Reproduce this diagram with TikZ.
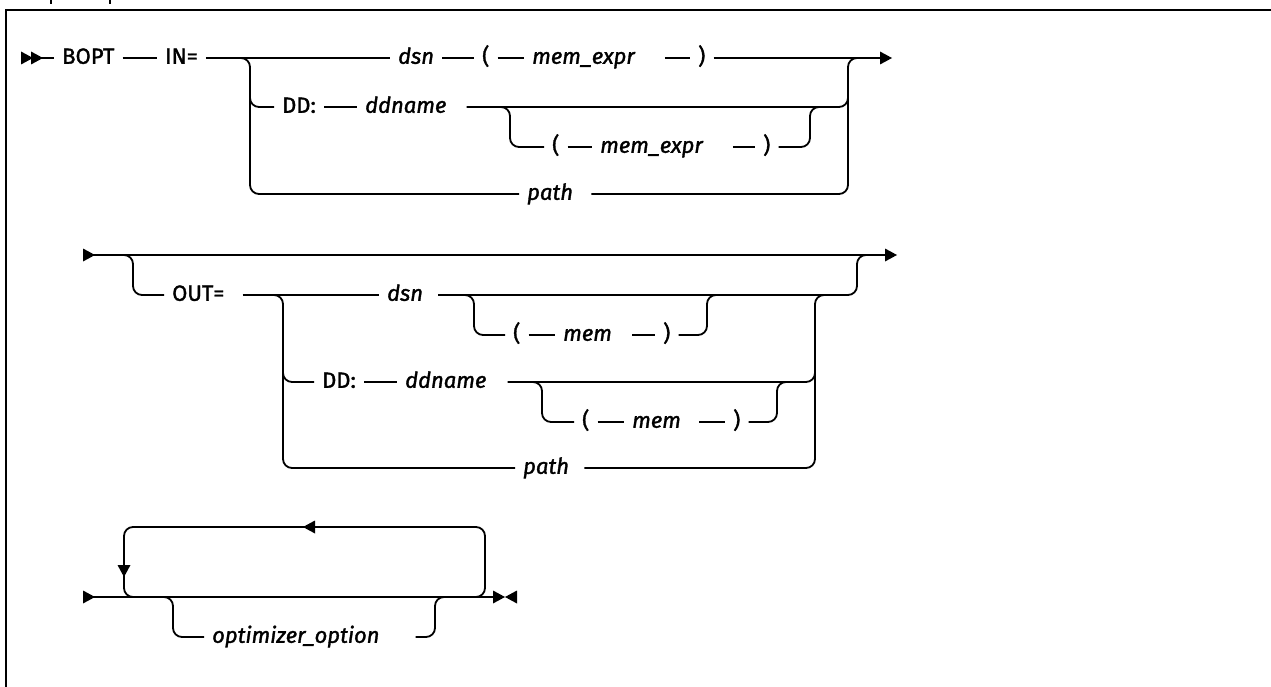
\documentclass[tikz,border=0pt]{standalone}
\usepackage{fontspec}
\setmainfont{Fira Sans}[FakeBold=1.5]
\usetikzlibrary{positioning,calc}

\tikzset{
  rail/.style={line width=1.8pt, rounded corners=9pt},
  kw/.style={anchor=mid west, inner xsep=8pt, inner ysep=2pt, font=\fontsize{22}{26}\selectfont},
  var/.style={kw, font=\fontsize{22}{26}\selectfont\itshape},
  rtip/.pic={\fill (0,0) -- (-12,-6.5) -- (-12,6.5) -- cycle;}
}

\begin{document}
\fontsize{22}{26}\selectfont
\begin{tikzpicture}[x=1pt,y=-1pt]
    \useasboundingbox (0,0) rectangle (1271,687);
    % Frame
    \draw[line width=2.5pt] (6,687) -- (6,10) -- (1271,10);
    \draw[line width=1.5pt] (51,0) -- (51,4) (110,0) -- (110,4);

    % Block 1: BOPT IN=
    \coordinate (startA) at (23,58);
    \coordinate (endA) at (880,58);
    \coordinate (splitA) at (250,58);
    \coordinate (joinA) at (848,58);
    \node[kw] (bopt) at (54,58) {BOPT};
    \node[kw] (inA) at (157,58) {IN=};
    \node[var] (dsnA) at (390,58) {dsn};
    \node[kw] (lpA) at (474,58) {(};
    \node[var] (memA) at (524,58) {mem\_expr\kern22pt};
    \node[kw] (rpA) at (690,58) {)};
    \node[kw] (ddA) at (274,107) {DD:};
    \node[var] (ddnA) at (357,107) {ddname\kern12pt};
    \node[kw] (lpA2) at (544,147) {(};
    \node[var] (memA2) at (592,147) {mem\_expr\kern22pt};
    \node[kw] (rpA2) at (755,147) {)};
    \node[var] (pathA) at (519,194) {path\kern10pt};

    \draw[rail] (startA) -- (bopt.mid west);
    \pic at (33,58) {rtip};
    \pic at (43,58) {rtip};
    \draw[rail] (bopt.mid east) -- (inA.mid west);
    \draw[rail] (inA.mid east) -- (dsnA.mid west);
    \draw[rail] (dsnA.mid east) -- (lpA.mid west);
    \draw[rail] (lpA.mid east) -- (memA.mid west);
    \draw[rail] (memA.mid east) -- (rpA.mid west);
    \draw[rail] (rpA.mid east) -- (endA);
    \pic at (892,58) {rtip};
    % choice
    \draw[rail] ($(splitA)+(-10,0)$) -| (splitA |- pathA.mid west) -- (pathA.mid west);
    \draw[rail] ($(splitA |- ddA.mid west)+(0,-12)$) |- (ddA.mid west);
    \draw[rail] (ddA.mid east) -- (ddnA.mid west);
    \draw[rail] (ddnA.mid east) -| ($(joinA |- ddnA.mid east)+(0,-12)$);
    \draw[rail] (pathA.mid east) -| (joinA) -- ++(10,0);
    % optional member
    \draw[rail] (500,107) -| (510,147) -- (lpA2.mid west);
    \draw[rail] (lpA2.mid east) -- (memA2.mid west);
    \draw[rail] (memA2.mid east) -- (rpA2.mid west);
    \draw[rail] (rpA2.mid east) -| (810,107) -- (820,107);

    % Block 2: OUT=
    \coordinate (startB) at (83,255);
    \coordinate (endB) at (885,255);
    \coordinate (splitB) at (283,295);
    \coordinate (joinB) at (815,295);
    \node[kw] (outB) at (164,295) {OUT=\kern10pt};
    \node[var] (dsnB) at (379,295) {dsn\kern7pt};
    \node[kw] (lpB) at (505,335) {(};
    \node[var] (memB) at (555,335) {mem\kern12pt};
    \node[kw] (rpB) at (655,335) {)};
    \node[kw] (ddB) at (314,382) {DD:};
    \node[var] (ddnB) at (397,382) {ddname\kern13pt};
    \node[kw] (lpB2) at (574,422) {(};
    \node[var] (memB2) at (624,422) {mem\kern10pt};
    \node[kw] (rpB2) at (725,422) {)};
    \node[var] (pathB) at (515,468) {path\kern7pt};

    \draw[rail] (startB) -- (endB);
    \pic at (95,255) {rtip};
    \pic at (897,255) {rtip};
    \draw[rail] (123,255) -| (133,295) -- (outB.mid west);
    \draw[rail] (outB.mid east) -- (dsnB.mid west);
    \draw[rail] (dsnB.mid east) -| (857,255) -- (867,255);
    % choice
    \draw[rail] ($(splitB)+(-10,0)$) -| (splitB |- pathB.mid west) -- (pathB.mid west);
    \draw[rail] ($(splitB |- ddB.mid west)+(0,-12)$) |- (ddB.mid west);
    \draw[rail] (ddB.mid east) -- (ddnB.mid west);
    \draw[rail] (ddnB.mid east) -| ($(joinB |- ddnB.mid east)+(0,-12)$);
    \draw[rail] (pathB.mid east) -| (joinB) -- ++(10,0);
    % optional members
    \draw[rail] (464,295) -| (474,335) -- (lpB.mid west);
    \draw[rail] (lpB.mid east) -- (memB.mid west);
    \draw[rail] (memB.mid east) -- (rpB.mid west);
    \draw[rail] (rpB.mid east) -| (707,295) -- (717,295);
    \draw[rail] (532,382) -| (542,422) -- (lpB2.mid west);
    \draw[rail] (lpB2.mid east) -- (memB2.mid west);
    \draw[rail] (memB2.mid east) -- (rpB2.mid west);
    \draw[rail] (rpB2.mid east) -| (777,382) -- (787,382);

    % Block 3: repeated options
    \coordinate (startC) at (83,597);
    \coordinate (endC) at (493,597);
    \node[var] (optC) at (204,637) {optimizer\_option\kern28pt};

    \draw[rail] (startC) -- (endC);
    \pic at (95,597) {rtip};
    \draw[rail] (134,597) -| (124,527) -| (485,597) -- (475,597);
    \pic[rotate=180] at (303,527) {rtip};
    \pic[rotate=-90] at (124,577) {rtip};
    \draw[rail] (163,597) -| (173,637) -- (optC.mid west);
    \draw[rail] (optC.mid east) -| (435,597) -- (445,597);
    \pic at (505,597) {rtip};
    \pic[rotate=180] at (505,597) {rtip};
\end{tikzpicture}
\end{document}
